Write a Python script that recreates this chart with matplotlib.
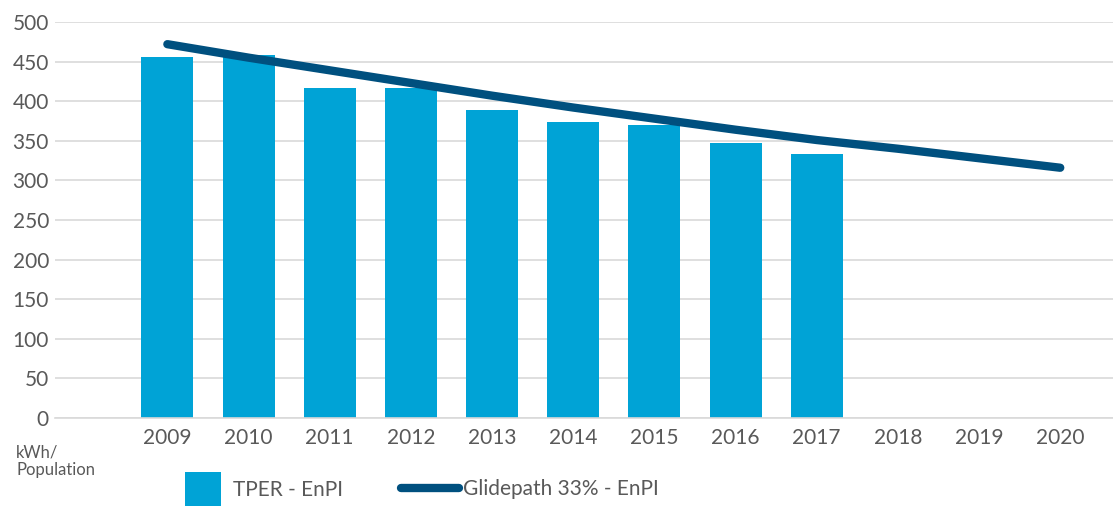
import matplotlib.pyplot as plt
import numpy as np

plt.rcParams['font.family'] = ['Lato', 'DejaVu Sans']
plt.rcParams['font.size'] = 15

years = ['2009', '2010', '2011', '2012', '2013', '2014', '2015', '2016',
         '2017', '2018', '2019', '2020']
tper = [456, 458, 417, 417, 389, 374, 370, 347, 333]
glidepath = [472, 455, 439, 423, 407, 392, 378, 364, 351, 340, 328, 316]

bar_color = '#00A3D6'
line_color = '#00507F'
text_color = '#595959'

fig = plt.figure(figsize=(11.13, 5.07), dpi=100)
ax = fig.add_axes([0.049, 0.1755, 0.951, 0.7811])

x = np.arange(len(years))
bars = ax.bar(x[:len(tper)], tper, width=0.64, color=bar_color, zorder=2)
line, = ax.plot(x, glidepath, color=line_color, lw=6, solid_capstyle='round',
                zorder=3)

ax.set_xlim(-1.39, 11.65)
ax.set_ylim(0, 500)
ax.set_yticks(range(0, 501, 50))
ax.set_xticks(x)
ax.set_xticklabels(years)
ax.yaxis.grid(True, color='#D9D9D9', lw=1.2, zorder=0)
ax.set_axisbelow(True)
for s in ['top', 'right', 'left']:
    ax.spines[s].set_visible(False)
ax.spines['bottom'].set_color('#D9D9D9')
ax.spines['bottom'].set_linewidth(1.2)
ax.tick_params(axis='both', length=0, colors=text_color, labelsize=15)
ax.tick_params(axis='x', pad=7)
ax.tick_params(axis='y', pad=4)

fig.text(16 / 1113, 1 - 461 / 507, 'kWh/\nPopulation', color=text_color,
         fontsize=12, va='center', ha='left', linespacing=1.15)

# two legends so the patch and the line can have their own handle sizes
leg1 = fig.legend([bars], ['TPER - EnPI'], frameon=False, loc='center left',
                  bbox_to_anchor=(166 / 1113, 1 - 489 / 507), handlelength=1.75,
                  handleheight=2.1, handletextpad=0.55, labelcolor=text_color,
                  fontsize=15)
leg2 = fig.legend([line], ['Glidepath 33% - EnPI'], frameon=False,
                  loc='center left', bbox_to_anchor=(382 / 1113, 1 - 489 / 507),
                  handlelength=2.8, handletextpad=0.2, labelcolor=text_color,
                  fontsize=15)

fig.savefig('out.png', dpi=100)
